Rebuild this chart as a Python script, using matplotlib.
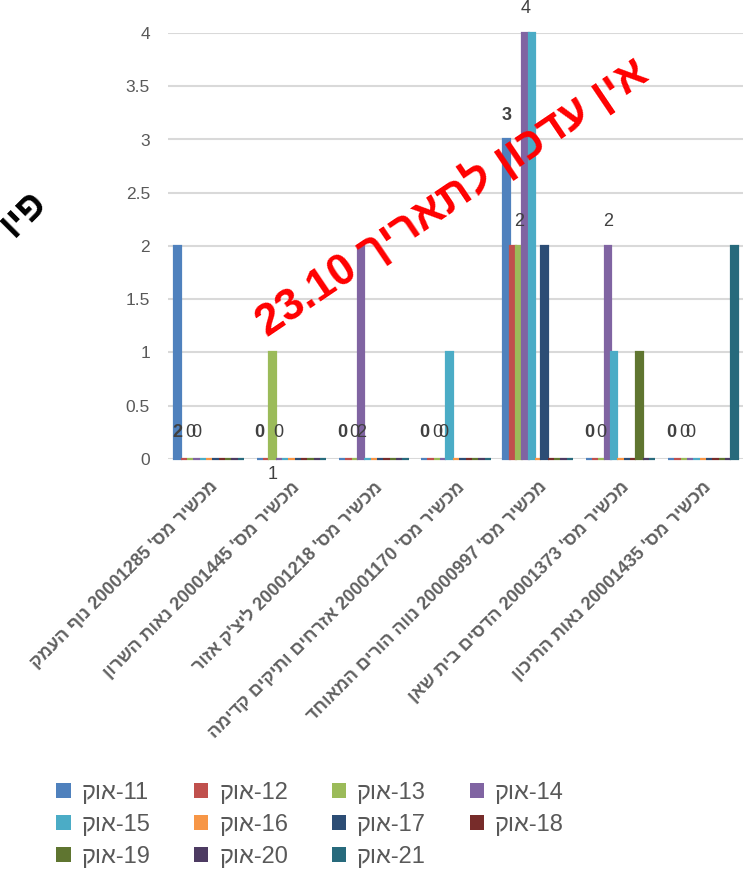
import re
import numpy as np
import matplotlib
matplotlib.use('Agg')
import matplotlib.pyplot as plt
from matplotlib.patches import Patch

# ---- data ----
categories = [
    "מכשיר מס' 20001285 נוף העמק",
    "מכשיר מס' 20001445 נאות השרון",
    "מכשיר מס' 20001218 ליצ'ק אזור",
    "מכשיר מס' 20001170 אזרחים ותיקים קדימה",
    "מכשיר מס' 20000997 נווה הורים המאוחד",
    "מכשיר מס' 20001373 הדסים בית שאן",
    "מכשיר מס' 20001435 נאות התיכון",
]
series_names = ["11-אוק", "12-אוק", "13-אוק", "14-אוק", "15-אוק", "16-אוק",
                "17-אוק", "18-אוק", "19-אוק", "20-אוק", "21-אוק"]
series_colors = ["#4F81BD", "#C0504D", "#9BBB59", "#8064A2", "#4BACC6", "#F79646",
                 "#2C4D75", "#772C2A", "#5F7530", "#4D3B62", "#276A7C"]

# rows = series (11..21 Oct), columns = categories
s11 = [2, 0, 0, 0, 3, 0, 0]
s12 = [0, 0, 0, 0, 2, 0, 0]
s13 = [0, 1, 0, 0, 2, 0, 0]
s14 = [0, 0, 2, 0, 4, 2, 0]
s15 = [0, 0, 0, 1, 4, 1, 0]
s16 = [0, 0, 0, 0, 0, 0, 0]
s17 = [0, 0, 0, 0, 2, 0, 0]
s18 = [0, 0, 0, 0, 0, 0, 0]
s19 = [0, 0, 0, 0, 0, 1, 0]
s20 = [0, 0, 0, 0, 0, 0, 0]
s21 = [0, 0, 0, 0, 0, 0, 2]
values = np.array([s11, s12, s13, s14, s15, s16, s17, s18, s19, s20, s21])

# series that carry data labels (index, bold)
labeled_series = [(0, True), (2, False), (3, False)]

warning_text = "אין עדכון לתאריך 23.10"
title_text = "פיו"


def visual(s):
    """Hebrew logical order -> visual order (numbers kept left to right)."""
    r = s[::-1]
    return re.sub(r'[0-9.]+', lambda m: m.group(0)[::-1], r)


plt.rcParams['font.family'] = ['Liberation Sans', 'DejaVu Sans']
GRAY = '#595959'

fig = plt.figure(figsize=(7.43, 8.72), dpi=100)
ax = fig.add_axes([168 / 743, 1 - 459 / 872, (744 - 168) / 743, (459 - 33) / 872])

n_series, n_cat = values.shape
x = np.arange(n_cat)
bar_w = 0.077
for j in range(n_series):
    pos = x - bar_w * n_series / 2 + bar_w * (j + 0.5)
    ax.bar(pos, values[j], width=bar_w, color=series_colors[j],
           edgecolor=series_colors[j], linewidth=1.6, zorder=3, clip_on=False)

# data labels (Excel placed a few of them oddly)
odd_label_y = {(0, 0): 0.25, (2, 1): -0.15, (3, 2): 0.25}
for j, bold in labeled_series:
    pos = x - bar_w * n_series / 2 + bar_w * (j + 0.5)
    for k in range(n_cat):
        v = values[j, k]
        y = odd_label_y.get((j, k), (v + 0.23) if v > 0 else 0.25)
        ax.text(pos[k], y, str(v), ha='center', va='center', fontsize=13,
                color='#404040', fontweight='bold' if bold else 'normal', zorder=4)

ax.set_xlim(-0.5, n_cat - 0.5)
ax.set_ylim(0, 4)
ax.set_yticks(np.arange(0, 4.01, 0.5))
ax.set_yticklabels(['0', '0.5', '1', '1.5', '2', '2.5', '3', '3.5', '4'])
ax.tick_params(axis='y', length=0, pad=13, labelsize=12.5, labelcolor=GRAY)
ax.yaxis.grid(True, color='#D9D9D9', linewidth=1.5, zorder=0)
ax.set_axisbelow(True)
for sp in ax.spines.values():
    sp.set_visible(False)

ax.set_xticks(x)
ax.set_xticklabels([visual(c) for c in categories], rotation=45, ha='right',
                   va='top', rotation_mode='anchor', fontsize=13,
                   fontweight='bold', color='#606060')
ax.tick_params(axis='x', length=0, pad=14)

# legend, filled row by row
order = [0, 4, 8, 1, 5, 9, 2, 6, 10, 3, 7]
handles = [Patch(facecolor=series_colors[i], edgecolor='none') for i in order]
labels = [visual(series_names[i]) for i in order]
fig.legend(handles, labels, ncol=4, loc='upper left',
           bbox_to_anchor=(56 / 743, 1 - 782 / 872), frameon=False,
           fontsize=17, handlelength=0.62, handleheight=0.62, handletextpad=0.45,
           columnspacing=1.85, labelspacing=0.42, borderpad=0, borderaxespad=0,
           labelcolor=GRAY)

# red overlay note and the clipped title on the left
fig.text(452 / 743, 1 - 197 / 872, visual(warning_text), color='red',
         fontsize=32, fontweight='bold', rotation=34, rotation_mode='anchor',
         ha='center', va='center')
fig.text(48 / 743, 1 - 204 / 872, visual(title_text), color='black',
         fontsize=28, fontweight='bold', rotation=45, rotation_mode='anchor',
         ha='right', va='baseline')

fig.savefig('out.png', dpi=100)
